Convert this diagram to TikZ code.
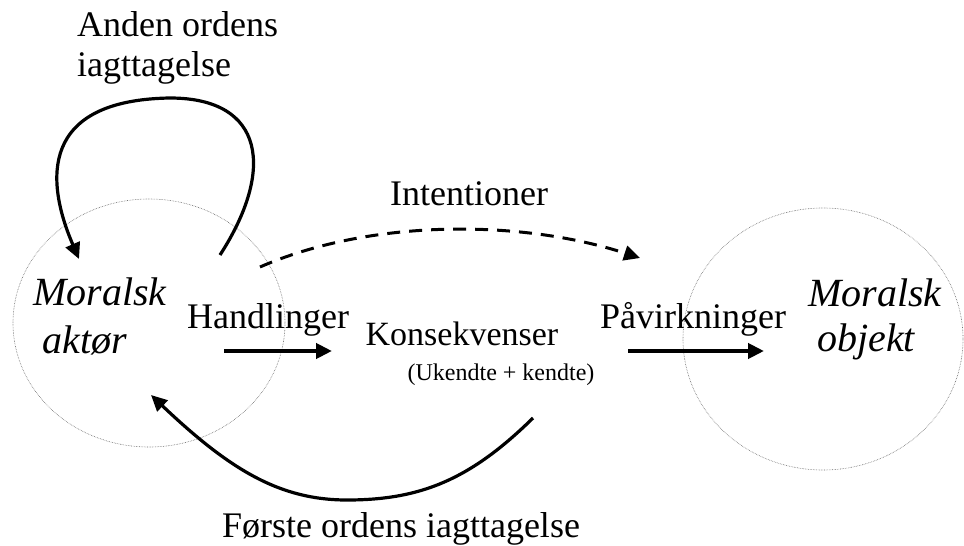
\documentclass[tikz,border=0pt]{standalone}
\usepackage{fontspec}
\setmainfont{Liberation Serif}[ItalicFont={Liberation Serif Italic},BoldFont={Liberation Serif Bold}]
\usetikzlibrary{arrows.meta,shapes.geometric}
\begin{document}
\begin{tikzpicture}[x=1pt,y=-1pt,
  lbl/.style={font=\fontsize{36}{36}\selectfont,inner sep=0pt,anchor=base},
  small/.style={font=\fontsize{24}{24}\selectfont,inner sep=0pt,anchor=base},
  ital/.style={font=\fontsize{40}{40}\selectfont\itshape,inner sep=0pt,anchor=base},
  oval/.style={draw=black!60,densely dotted,line width=0.6pt,ellipse,inner sep=0pt},
  tip/.style={-{Triangle[length=16pt,width=15pt]}},
  thick arrow/.style={line width=4pt,tip},
  curve arrow/.style={line width=3.2pt,tip},
  dash line/.style={line width=3pt,dash pattern=on 13pt off 9pt,tip}]
\useasboundingbox (0,0) rectangle (964,546);
% ovals
\node[oval,minimum width=272pt,minimum height=248pt] (actor) at (149,323) {};
\node[oval,minimum width=280pt,minimum height=262pt] (object) at (823,339) {};
% texts
\node[ital] (m1) at (100,305) {Moralsk};
\node[ital] (m2) at (85,353) {aktør};
\node[ital] (o1) at (875,306) {Moralsk};
\node[ital] (o2) at (866,351) {objekt};
\node[lbl] (hand) at (268,328) {Handlinger};
\node[lbl,font=\fontsize{34}{34}\selectfont] (kons) at (462,345) {Konsekvenser};
\node[small] (uk) at (501,380) {(Ukendte + kendte)};
\node[lbl] (paav) at (693,328) {Påvirkninger};
\node[lbl] (int) at (469,205) {Intentioner};
\node[lbl,anchor=base west] (and1) at (77,36) {Anden ordens};
\node[lbl,anchor=base west] (and2) at (77,76) {iagttagelse};
\node[lbl] (forst) at (401,537) {Første ordens iagttagelse};
% connector end points
\coordinate (h1) at (224,351);
\coordinate (h2) at (332,351);
\coordinate (p1) at (628,351);
\coordinate (p2) at (764,351);
\coordinate (d1) at (260,267);
\coordinate (d2) at (640,258);
\coordinate (l1) at (220,255);
\coordinate (ltop) at (170,98);
\coordinate (l2) at (79,259);
\coordinate (b1) at (533,418);
\coordinate (bbot) at (347,500);
\coordinate (b2) at (151,395);
% connectors
\draw[thick arrow] (h1) -- (h2);
\draw[thick arrow] (p1) -- (p2);
\draw[dash line] (d1) .. controls (370,219) and (520,219) .. (d2);
\draw[curve arrow] (l1) .. controls (275,170) and (265,98) .. (ltop)
   .. controls (40,100) and (45,180) .. (l2);
\draw[curve arrow] (b1) .. controls (470,480) and (420,500) .. (bbot)
   .. controls (280,500) and (230,470) .. (b2);
\end{tikzpicture}
\end{document}
